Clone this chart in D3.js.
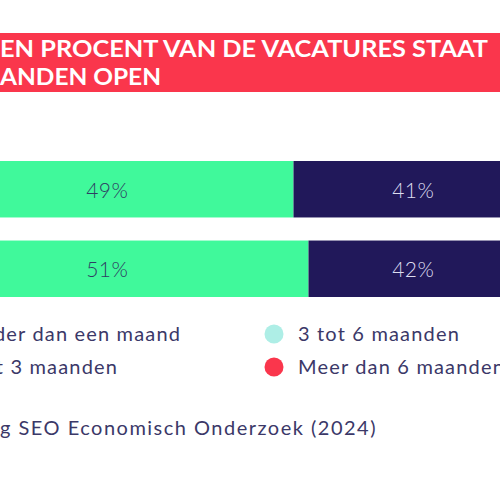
<!DOCTYPE html>
<html>
<head>
<meta charset="utf-8">
<script src="https://cdn.jsdelivr.net/npm/d3@7"></script>
<style>
  html, body { margin: 0; padding: 0; background: #fff; overflow: hidden; }
  svg { display: block; font-family: Lato, "Noto Sans", sans-serif; }
</style>
</head>
<body>
<div id="chart"></div>
<script>
// data (picture is a crop of a wider chart, so parts fall outside the frame)
var titleLines = ["EN PROCENT VAN DE VACATURES STAAT", "ANDEN OPEN"];
var series = ["Minder dan een maand", "1 tot 3 maanden", "3 tot 6 maanden", "Meer dan 6 maanden"];
var rows = ["rij 1", "rij 2"];
var row1 = [49, 41, 6, 4];
var row2 = [51, 42, 4, 3];
var source = "g SEO Economisch Onderzoek (2024)";

// styles
var w = 500, h = 500;
var colors = ["#40f99b", "#21185a", "#aeeee6", "#fa364c"];
var labelColors = ["#2f3d63", "#dcdcef", "#21185a", "#ffffff"];
var textColor = "#3b3868";

var svg = d3.select("#chart").append("svg")
    .attr("width", w)
    .attr("height", h);

// spread letters so a text gets the wide look of the original font
function spacingFor(sel, target) {
    var len = sel.node().getComputedTextLength();
    var n = sel.text().length;
    return (target - len) / n;
}

// title band
svg.append("rect")
    .attr("x", 0).attr("y", 33)
    .attr("width", w).attr("height", 59)
    .attr("fill", "#fa364c");

var titleBase = [57, 85], titleLen = [488, 161];
svg.selectAll("text.title")
    .data(titleLines)
    .enter().append("text")
    .attr("class", "title")
    .attr("x", 0)
    .attr("y", function(d, i) { return titleBase[i]; })
    .attr("textLength", function(d, i) { return titleLen[i]; })
    .attr("lengthAdjust", "spacingAndGlyphs")
    .attr("fill", "#fff")
    .style("font-size", "22px")
    .style("font-weight", 700)
    .text(function(d) { return d; });

// bars
var x = d3.scaleLinear().domain([0, 100]).range([-74, 676]);
var y = d3.scaleBand().domain(rows).range([161, 297]).paddingInner(0.29);

var table = rows.map(function(r, i) {
    var vals = i === 0 ? row1 : row2, acc = 0;
    return vals.map(function(v, j) {
        var seg = { row: r, s: j, v: v, x0: acc, x1: acc + v };
        acc += v;
        return seg;
    });
});

// labels of the two visible series sit in fixed columns
var labelX = [107, 413];

var g = svg.selectAll("g.row")
    .data(table)
    .enter().append("g")
    .attr("class", "row");

g.selectAll("rect")
    .data(function(d) { return d; })
    .enter().append("rect")
    .attr("x", function(d) { return x(d.x0); })
    .attr("y", function(d) { return y(d.row); })
    .attr("width", function(d) { return x(d.x1) - x(d.x0); })
    .attr("height", y.bandwidth())
    .attr("fill", function(d) { return colors[d.s]; });

// only the labels that fall inside the frame
var labels = g.selectAll("text")
    .data(function(d) { return d.filter(function(s) { return s.s < 2; }); })
    .enter().append("text")
    .attr("x", function(d) { return labelX[d.s]; })
    .attr("y", function(d) { return y(d.row) + y.bandwidth() / 2 + 8.5; })
    .attr("text-anchor", "middle")
    .attr("fill", function(d) { return labelColors[d.s]; })
    .style("font-size", "21px")
    .style("font-weight", 300)
    .text(function(d) { return d.v + "%"; });
var lsLab = spacingFor(d3.select(labels.node()), 42);
labels.style("letter-spacing", lsLab + "px")
    .attr("dx", lsLab / 2);

// legend, two columns
var legend = svg.selectAll("g.leg")
    .data(series)
    .enter().append("g")
    .attr("class", "leg");

legend.append("circle")
    .attr("r", 9.5)
    .attr("fill", function(d, i) { return colors[i]; });

var legText = legend.append("text")
    .attr("x", 24)
    .attr("y", 7)
    .attr("fill", textColor)
    .style("font-size", "20px")
    .text(function(d) { return d; });
var lsLeg = spacingFor(legText.filter(function(d, i) { return i === 2; }), 162);
legText.style("letter-spacing", lsLeg + "px");

// first column is placed so its first entry ends where the original does
var firstLen = legText.filter(function(d, i) { return i === 0; }).node().getComputedTextLength();
var col1 = 180 - 24 - firstLen + lsLeg;
legend.attr("transform", function(d, i) {
    return "translate(" + (i < 2 ? col1 : 274) + "," + (i % 2 === 0 ? 334 : 367) + ")";
});

// source
var src = svg.append("text")
    .attr("x", 0)
    .attr("y", 435)
    .attr("fill", textColor)
    .style("font-size", "20px")
    .text(source);
src.style("letter-spacing", spacingFor(src, 377) + "px");
</script>
</body>
</html>
